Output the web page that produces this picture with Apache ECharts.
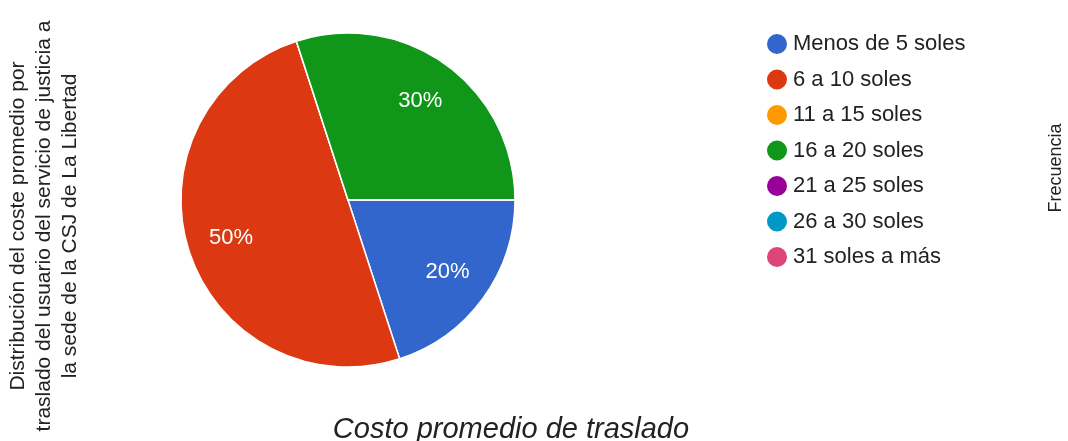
<!DOCTYPE html>
<html><head><meta charset="utf-8">
<script src="https://cdn.jsdelivr.net/npm/echarts@6/dist/echarts.min.js"></script>
<style>html,body{margin:0;padding:0;background:#fff}#c{width:1068px;height:441px}</style>
</head><body><div id="c"></div>
<script>
const categories = ['Menos de 5 soles','6 a 10 soles','11 a 15 soles','16 a 20 soles','21 a 25 soles','26 a 30 soles','31 soles a más'];
const values = [20, 50, 0, 30, 0, 0, 0];
const colors = ['#3366cc','#dc3912','#ff9900','#109618','#990099','#0099c6','#dd4477'];
const yTitleLines = ['Distribución del coste promedio por','traslado del usuario del servicio de justicia a','la sede de la CSJ de La Libertad'];
const rightTitle = 'Frecuencia';
const xTitle = 'Costo promedio de traslado';

const FONT = '"Liberation Sans", Arial, sans-serif';
const data = categories.map((n,i)=>({name:n, value:values[i], itemStyle:{color:colors[i]}}));
const total = values.reduce((a,b)=>a+b,0);

const chart = echarts.init(document.getElementById('c'), null, {renderer:'canvas'});
chart.setOption({
  animation:false,
  color: colors,
  legend:{
    orient:'vertical', left:760, top:27, icon:'circle', itemWidth:22, itemHeight:22, itemGap:11.5,
    textStyle:{fontFamily:FONT, fontSize:22, color:'#222'},
    data: categories
  },
  series:[
    {type:'pie', center:[348,200], radius:[0,167], startAngle:0, clockwise:true,
     label:{show:false}, labelLine:{show:false},
     itemStyle:{borderColor:'#fff', borderWidth:1.5},
     emphasis:{disabled:true}, data:data},
    {type:'pie', center:[348,200], radius:[73,167], startAngle:0, clockwise:true, silent:true,
     itemStyle:{color:'rgba(0,0,0,0)'}, labelLine:{show:false},
     label:{show:true, position:'inside', color:'#fff', fontFamily:FONT, fontSize:22,
       formatter:p=> p.value>0 ? Math.round(p.value/total*100)+'%' : ''},
     emphasis:{disabled:true},
     data: categories.map((n,i)=>({name:n, value:values[i]}))}
  ],
  graphic:[
    ...yTitleLines.map((t,i)=>({type:'text', x:18+i*26, y:226, rotation:Math.PI/2,
      style:{text:t, fontFamily:FONT, fontSize:21, fill:'#222', textAlign:'center', textVerticalAlign:'middle'}})),
    {type:'text', x:1056, y:168, rotation:Math.PI/2,
      style:{text:rightTitle, fontFamily:FONT, fontSize:18, fill:'#222', textAlign:'center', textVerticalAlign:'middle'}},
    {type:'text', x:511, y:430,
      style:{text:xTitle, fontFamily:FONT, fontSize:29, fontStyle:'italic', fill:'#222', textAlign:'center', textVerticalAlign:'middle'}}
  ]
});
</script></body></html>
